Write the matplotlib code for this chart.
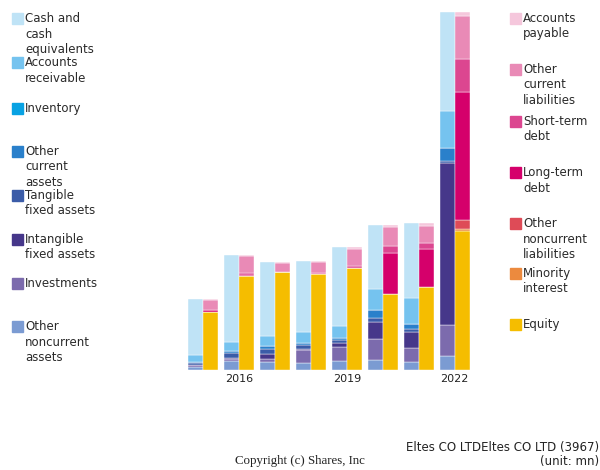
import matplotlib.pyplot as plt
from matplotlib.patches import Rectangle
import numpy as np

years = [2015, 2016, 2017, 2018, 2019, 2020, 2021, 2022]
tick_years = [2016, 2019, 2022]

# assets (bottom to top)
asset_names = ["Other\nnoncurrent\nassets", "Investments", "Intangible\nfixed assets",
               "Tangible\nfixed assets", "Other\ncurrent\nassets", "Inventory",
               "Accounts\nreceivable", "Cash and\ncash\nequivalents"]
other_nc_assets = [3.3, 9.0, 7.7, 7.0, 9.0, 10.0, 7.7, 14.0]
investments = [2.0, 1.7, 3.3, 13.0, 14.3, 21.0, 14.3, 31.0]
intangible = [0.0, 1.0, 5.3, 1.3, 3.3, 17.3, 16.3, 161.7]
tangible = [1.3, 5.0, 4.7, 3.3, 3.3, 4.0, 2.7, 2.0]
other_cur_assets = [1.7, 2.3, 3.3, 2.7, 2.3, 8.0, 5.3, 13.7]
inventory = [0, 0, 0, 0, 0, 0, 0, 0]
receivables = [6.3, 9.0, 9.7, 10.3, 11.7, 20.7, 25.3, 37.0]
cash = [56.4, 87.0, 73.7, 71.7, 79.0, 64.0, 75.7, 98.7]
assets = [other_nc_assets, investments, intangible, tangible,
          other_cur_assets, inventory, receivables, cash]
asset_colors = ["#7b9bd2", "#7c6bad", "#46378a", "#3b5ca8",
                "#2a80cb", "#08a2e3", "#75c3ef", "#bfe3f6"]

# liabilities + equity (bottom to top)
liab_names = ["Equity", "Minority\ninterest", "Other\nnoncurrent\nliabilities",
              "Long-term\ndebt", "Short-term\ndebt", "Other\ncurrent\nliabilities",
              "Accounts\npayable"]
equity = [58.0, 94.0, 98.3, 96.3, 101.7, 76.0, 83.3, 139.3]
minority = [0, 0, 0, 0, 0, 0, 0, 1.3]
other_nc_liab = [0, 0, 0, 0, 0, 0, 0, 9.3]
lt_debt = [1.5, 1.3, 0, 0.5, 0.7, 41.3, 37.7, 128.3]
st_debt = [0.8, 1.3, 0, 0.5, 1.7, 6.7, 6.3, 33.0]
other_cur_liab = [10.0, 17.3, 8.3, 10.7, 17.0, 19.3, 16.7, 42.7]
payables = [0.7, 1.0, 1.0, 1.3, 2.0, 1.7, 3.3, 4.0]
liabs = [equity, minority, other_nc_liab, lt_debt, st_debt, other_cur_liab, payables]
liab_colors = ["#f5bd00", "#ec8a3e", "#de4b57", "#d5006b",
               "#dc4690", "#e98ab6", "#f5c7dc"]

fig = plt.figure(figsize=(6, 4.7), dpi=100)
ax = fig.add_axes([0.308, 0.213, 0.48, 0.761])

x = np.arange(len(years))
w = 0.417
bottom = np.zeros(len(years))
for vals, c in zip(assets, asset_colors):
    ax.bar(x - w / 2, vals, w, bottom=bottom, color=c, edgecolor="white", linewidth=0.3)
    bottom += np.array(vals)
bottom = np.zeros(len(years))
for vals, c in zip(liabs, liab_colors):
    ax.bar(x + w / 2, vals, w, bottom=bottom, color=c, edgecolor="white", linewidth=0.3)
    bottom += np.array(vals)

ax.set_xlim(-0.5, 7.5)
ax.set_ylim(0, max(bottom))
ax.set_xticks([years.index(y) for y in tick_years])
ax.set_xticklabels([str(y) for y in tick_years], fontsize=8, color="#222222")
ax.tick_params(axis="x", length=0, pad=3)
ax.set_yticks([])
for s in ax.spines.values():
    s.set_visible(False)

W, H = 600.0, 470.0
# left legend (assets, top to bottom)
left_y = [13, 57, 103, 146, 190, 234, 278, 321]
for name, c, y in zip(asset_names[::-1], asset_colors[::-1], left_y):
    fig.patches.append(Rectangle((12 / W, 1 - (y + 11) / H), 11 / W, 11 / H,
                                 color=c, transform=fig.transFigure))
    fig.text(25 / W, 1 - (y - 1) / H, name, fontsize=8.5, va="top", ha="left",
             color="#2a2a2a", linespacing=1.25)

# right legend (liabilities, top to bottom)
right_y = [13, 64, 116, 167, 218, 268, 319]
for name, c, y in zip(liab_names[::-1], liab_colors[::-1], right_y):
    fig.patches.append(Rectangle((510 / W, 1 - (y + 11) / H), 11 / W, 11 / H,
                                 color=c, transform=fig.transFigure))
    fig.text(523 / W, 1 - (y - 1) / H, name, fontsize=8.5, va="top", ha="left",
             color="#2a2a2a", linespacing=1.25)

fig.text(599 / W, 1 - 447 / H, "Eltes CO LTDEltes CO LTD (3967)", fontsize=8.5,
         ha="right", va="center", color="#222222")
fig.text(599 / W, 1 - 461 / H, "(unit: mn)", fontsize=8.5,
         ha="right", va="center", color="#222222")
fig.text(300 / W, 1 - 461 / H, "Copyright (c) Shares, Inc", fontsize=9.3,
         family="Liberation Serif", ha="center", va="center", color="#222222")

fig.savefig("out.png", dpi=100)
